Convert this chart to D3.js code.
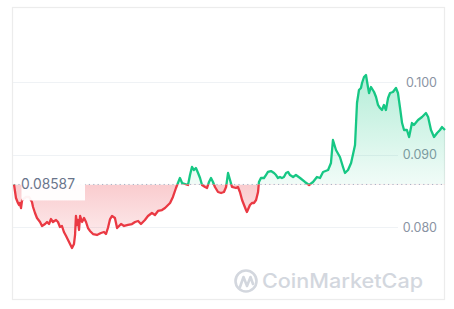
<!DOCTYPE html>
<html>
<head>
<meta charset="utf-8">
<script src="https://cdn.jsdelivr.net/npm/d3@7"></script>
<style>
  html, body { margin: 0; padding: 0; background: #fff; }
  svg { display: block; font-family: Inter, "Noto Sans", sans-serif; }
</style>
</head>
<body>
<svg id="chart" width="454" height="309"></svg>
<script>
// ---- data ----
const hours = [0.00,0.11,0.22,0.28,0.33,0.39,0.45,0.67,0.84,1.00,1.06,1.17,1.28,1.45,1.56,1.73,1.84,1.95,2.06,2.17,2.34,2.45,2.56,2.67,2.78,2.90,3.01,3.12,3.23,3.34,3.40,3.45,3.51,3.56,3.62,3.68,3.79,3.90,4.01,4.12,4.23,4.40,4.62,4.84,5.01,5.12,5.23,5.35,5.46,5.62,5.74,5.96,6.13,6.35,6.57,6.74,6.91,7.07,7.29,7.46,7.68,7.85,8.02,8.24,8.41,8.69,8.85,9.02,9.13,9.24,9.36,9.52,9.69,9.80,9.91,10.02,10.13,10.25,10.36,10.47,10.64,10.75,10.86,10.97,11.08,11.19,11.36,11.53,11.69,11.81,11.92,12.03,12.14,12.36,12.47,12.58,12.70,12.81,12.92,12.97,13.14,13.25,13.36,13.48,13.59,13.64,13.75,13.92,14.03,14.14,14.31,14.48,14.59,14.70,14.81,14.92,15.03,15.15,15.26,15.37,15.54,15.70,15.93,16.20,16.43,16.65,16.87,17.04,17.21,17.49,17.65,17.76,17.93,18.15,18.32,18.43,18.60,18.77,18.93,18.99,19.10,19.21,19.32,19.38,19.49,19.60,19.71,19.77,19.88,20.05,20.16,20.27,20.38,20.49,20.60,20.71,20.83,20.94,21.10,21.27,21.38,21.49,21.61,21.72,21.88,22.00,22.16,22.27,22.50,22.72,22.94,23.06,23.22,23.39,23.56,23.72,23.83,24.00];
const prices = [0.08587,0.08400,0.08331,0.08303,0.08331,0.08262,0.08372,0.08414,0.08414,0.08345,0.08276,0.08193,0.08124,0.08069,0.08014,0.08041,0.08069,0.08041,0.08110,0.08069,0.08097,0.08069,0.08000,0.08014,0.07931,0.07876,0.07821,0.07766,0.07710,0.07766,0.07890,0.08152,0.08028,0.08097,0.07959,0.08152,0.08069,0.08124,0.08069,0.07986,0.07945,0.07903,0.07890,0.07917,0.07931,0.07903,0.07986,0.08110,0.08152,0.08124,0.07986,0.08041,0.08014,0.08028,0.08041,0.08069,0.08083,0.08041,0.08097,0.08152,0.08193,0.08166,0.08221,0.08234,0.08262,0.08331,0.08414,0.08538,0.08607,0.08676,0.08607,0.08593,0.08579,0.08717,0.08828,0.08786,0.08814,0.08745,0.08676,0.08579,0.08552,0.08538,0.08621,0.08676,0.08621,0.08552,0.08483,0.08469,0.08483,0.08552,0.08745,0.08648,0.08552,0.08538,0.08552,0.08483,0.08372,0.08303,0.08234,0.08207,0.08303,0.08331,0.08331,0.08372,0.08483,0.08621,0.08676,0.08676,0.08717,0.08759,0.08772,0.08745,0.08717,0.08676,0.08690,0.08676,0.08690,0.08745,0.08759,0.08717,0.08690,0.08717,0.08676,0.08621,0.08579,0.08621,0.08690,0.08676,0.08759,0.08786,0.08883,0.09200,0.09062,0.08966,0.08828,0.08745,0.08786,0.08883,0.09062,0.09131,0.09710,0.09890,0.09917,0.09986,0.10069,0.10097,0.09931,0.09848,0.09931,0.09862,0.09793,0.09683,0.09641,0.09614,0.09683,0.09614,0.09779,0.09848,0.09862,0.09917,0.09848,0.09655,0.09434,0.09338,0.09338,0.09241,0.09434,0.09407,0.09476,0.09517,0.09572,0.09517,0.09338,0.09241,0.09297,0.09338,0.09379,0.09338];
const openPrice = 0.08587;
const openLabel = "0.08587";
const yTicks = [0.080, 0.090, 0.100];
const yTickLabels = ["0.080", "0.090", "0.100"];
const watermark = "CoinMarketCap";

const data = hours.map((h, i) => ({ h, p: prices[i] }));

// ---- scales ----
const svg = d3.select("#chart");
const x = d3.scaleLinear().domain([0, 24]).range([14, 445]);
const y = d3.scaleLinear().domain([0.080, 0.100]).range([227, 82]);
const by = y(openPrice);

const GREEN = "#16c784", RED = "#ea3943";

// card border
svg.append("rect").attr("x", 12.5).attr("y", 7.5).attr("width", 432).attr("height", 292)
  .attr("fill", "#fff").attr("stroke", "#ececec").attr("stroke-width", 1.2);

// grid lines + axis labels
const grid = svg.append("g");
yTicks.forEach((t, i) => {
  grid.append("line").attr("x1", 13).attr("x2", 398)
    .attr("y1", Math.round(y(t)) + 0.5).attr("y2", Math.round(y(t)) + 0.5)
    .attr("stroke", "#eff2f5").attr("stroke-width", 1);
  grid.append("text").attr("x", 437).attr("y", y(t) + 4.5)
    .attr("text-anchor", "end").attr("font-size", 12.5).attr("fill", "#8a93a3")
    .text(yTickLabels[i]);
});

// gradients & clips
const defs = svg.append("defs");
const gG = defs.append("linearGradient").attr("id", "gG").attr("gradientUnits", "userSpaceOnUse")
  .attr("x1", 0).attr("x2", 0).attr("y1", y(0.101)).attr("y2", by);
gG.append("stop").attr("offset", 0).attr("stop-color", GREEN).attr("stop-opacity", 0.32);
gG.append("stop").attr("offset", 1).attr("stop-color", GREEN).attr("stop-opacity", 0.06);
const gR = defs.append("linearGradient").attr("id", "gR").attr("gradientUnits", "userSpaceOnUse")
  .attr("x1", 0).attr("x2", 0).attr("y1", by).attr("y2", y(0.0768));
gR.append("stop").attr("offset", 0).attr("stop-color", RED).attr("stop-opacity", 0.26);
gR.append("stop").attr("offset", 1).attr("stop-color", RED).attr("stop-opacity", 0.06);

defs.append("clipPath").attr("id", "above").append("rect")
  .attr("x", 0).attr("y", 0).attr("width", 454).attr("height", by);
defs.append("clipPath").attr("id", "below").append("rect")
  .attr("x", 0).attr("y", by).attr("width", 454).attr("height", 309 - by);

const area = d3.area().x(d => x(d.h)).y0(by).y1(d => y(d.p));
const line = d3.line().x(d => x(d.h)).y(d => y(d.p));

svg.append("path").datum(data).attr("d", area).attr("fill", "url(#gG)").attr("clip-path", "url(#above)");
svg.append("path").datum(data).attr("d", area).attr("fill", "url(#gR)").attr("clip-path", "url(#below)");

// baseline dotted
svg.append("line").attr("x1", 14).attr("x2", 445).attr("y1", by).attr("y2", by)
  .attr("stroke", "#a6b0c3").attr("stroke-width", 1).attr("stroke-dasharray", "1.2,3.2");

svg.append("path").datum(data).attr("d", line).attr("fill", "none").attr("stroke", GREEN)
  .attr("stroke-width", 2.3).attr("stroke-linejoin", "round").attr("clip-path", "url(#above)");
svg.append("path").datum(data).attr("d", line).attr("fill", "none").attr("stroke", RED)
  .attr("stroke-width", 2.3).attr("stroke-linejoin", "round").attr("clip-path", "url(#below)");

// open price label
svg.append("rect").attr("x", 21.5).attr("y", by - 10).attr("width", 63.5).attr("height", 26)
  .attr("fill", "#fff").attr("fill-opacity", 0.94);
svg.append("text").attr("x", 21).attr("y", by + 5).attr("font-size", 13.8)
  .attr("fill", "#69748a").text(openLabel);

// watermark
const wm = svg.append("g");
wm.append("circle").attr("cx", 246).attr("cy", 281).attr("r", 10.5)
  .attr("fill", "none").attr("stroke", "#d3d7de").attr("stroke-width", 2.6);
wm.append("path").attr("d", "M240,287 L243.5,277 L247,286 L250.5,277 L253,284")
  .attr("fill", "none").attr("stroke", "#d3d7de").attr("stroke-width", 2.6)
  .attr("stroke-linejoin", "round").attr("stroke-linecap", "round");
wm.append("text").attr("x", 262).attr("y", 287.5).attr("font-size", 20).attr("font-weight", 500)
  .attr("fill", "#d3d7de").attr("textLength", 161).attr("lengthAdjust", "spacingAndGlyphs")
  .text(watermark);
</script>
</body>
</html>
